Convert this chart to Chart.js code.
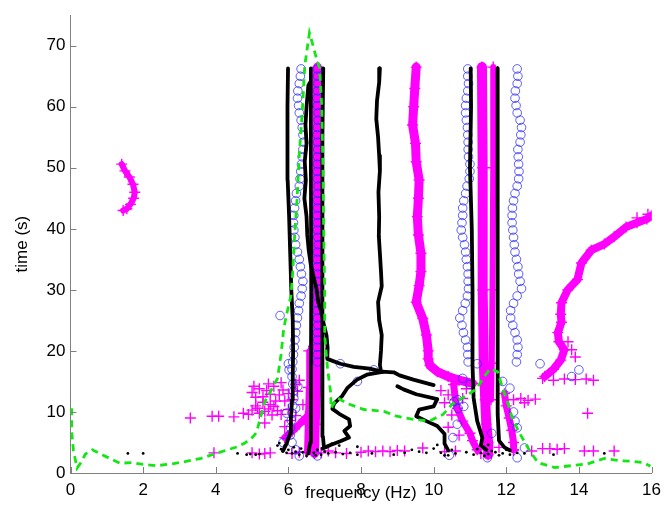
<!DOCTYPE html>
<html>
<head>
<meta charset="utf-8">
<script src="https://cdn.jsdelivr.net/npm/chart.js@4"></script>
<style>
  html, body { margin: 0; padding: 0; background: #fff; }
  #wrap { width: 668px; height: 507px; position: relative; }
</style>
</head>
<body>
<div id="wrap"><canvas id="grafico"></canvas></div>
<script>
// ticks
const xTicks = [0, 2, 4, 6, 8, 10, 12, 14, 16];
const yTicks = [0, 10, 20, 30, 40, 50, 60, 70];

// black tracks [frequency, time]
const blackA = [[5.85,3.6],[5.95,4.8],[6.05,6.5],[6.07,9],[6.1,12],[6.12,16],[6.13,20],[6.12,25],[6.08,30],[6.05,36],[6.02,42],[5.98,48],[5.97,55],[5.98,60],[5.99,66.3]];
const blackB = [[6.55,3.2],[6.6,5],[6.62,15],[6.63,30],[6.62,50],[6.62,66.3]];
const blackC = [[6.98,4.2],[6.95,6],[6.93,15],[6.93,35],[6.95,55],[6.96,66.3]];
const blackD = [[6.6,64],[6.55,63.5],[6.5,60],[6.47,57],[6.5,54],[6.45,51],[6.48,48],[6.44,45],[6.5,42],[6.52,39],[6.56,36.5],[6.62,34],[6.7,32],[6.78,30],[6.82,28],[6.9,26.5],[6.97,24.5],[7.05,22.5],[7.08,20.5],[7.07,18.7],[7.43,17.9],[7.8,17.4],[8.24,17.1],[8.57,16.6],[8.9,16.5],[9.06,16.0],[9.44,15.3],[10.0,14.4]];
const blackE = [[8.52,66.3],[8.5,64],[8.44,61],[8.42,58],[8.47,55],[8.5,52],[8.52,49.5],[8.48,46],[8.5,42],[8.49,38.8],[8.52,36],[8.55,33],[8.57,30.6],[8.47,28],[8.5,25],[8.57,22.6],[8.55,20],[8.52,17.7],[8.55,16.6]];
const blackF = [[8.63,16.6],[8.16,16.1],[7.89,15.3],[7.62,13.9],[7.48,12.6],[7.26,11.4],[7.21,10.5],[7.4,9.7],[7.67,8.8],[7.7,7.7],[7.54,6.9],[7.67,5.8],[7.43,5.2],[7.16,4.6],[6.94,4.0]];
const blackG = [[9.0,14.2],[9.17,13.7],[9.52,12.9],[10.1,12.1],[10.0,10.9],[9.6,10.4],[9.52,9.3],[9.8,8.5],[10.1,7.7],[10.3,6.4],[10.3,4.8],[10.4,3.7]];
const blackH = [[11.02,66.3],[11.03,60],[11.0,50],[11.05,40],[11.07,30],[11.07,20],[11.07,17.7],[11.1,12.3],[11.2,8.5],[11.34,5.8],[11.3,4.5],[11.45,3.8]];
const blackI = [[11.76,66.3],[11.77,50],[11.76,30],[11.76,9.6],[11.8,5.3],[11.95,4.2],[12.1,3.7]];
const blackDots = [[1.58,3.2],[2.0,3.2],[4.6,3.2],[4.85,3.0],[4.95,3.1],[5.1,3.0],[5.2,3.1],[5.7,4.5],[5.75,4.9],[5.8,3.9],[5.9,4.5],[5.95,3.3],[6.0,3.8],[6.1,3.2],[6.15,4.2],[6.2,3.5],[6.3,3.0],[6.35,4.0],[6.4,3.4],[6.5,2.8],[6.55,3.9],[6.7,3.3],[6.75,2.9],[6.8,3.8],[6.9,3.0],[7.0,3.5],[7.05,4.2],[7.1,3.2],[7.2,4.8],[7.3,3.4],[7.4,4.5],[7.5,3.1],[7.7,3.3],[7.9,3.0],[7.9,4.3],[8.3,3.2],[8.9,3.0],[9.2,3.3],[9.4,3.8],[9.6,3.5],[9.8,3.3],[10.0,4.0],[10.1,4.6],[10.2,3.3],[10.3,2.9],[10.4,2.9],[10.5,3.8],[10.6,3.2],[10.9,3.4],[11.1,3.0],[11.2,3.9],[11.3,3.3],[11.4,2.8],[11.5,3.1],[11.5,4.6],[11.6,3.6],[11.7,3.4],[11.8,2.9],[11.9,3.2],[12.0,3.8],[12.1,3.0],[12.3,3.3],[12.5,3.2],[13.3,3.0],[14.7,3.2]];

// magenta bands
const magArc = [[1.41,50.6],[1.5,49.5],[1.62,48.5],[1.72,47.3],[1.77,46],[1.74,45],[1.65,44],[1.55,43.3],[1.45,43.0]];
const mag68 = [[6.72,3.2],[6.74,8],[6.78,15],[6.8,30],[6.8,45],[6.8,60],[6.8,66.5]];
const mag65 = [[6.5,3.4],[6.52,8],[6.55,14],[6.56,20]];
const magDiag = [[5.9,5.8],[6.1,6.8],[6.3,8],[6.5,9.2],[6.6,10]];
const mag95 = [[9.52,66.5],[9.48,63],[9.45,60],[9.42,57],[9.5,54],[9.52,51],[9.6,48],[9.58,45],[9.55,42],[9.58,39],[9.65,36],[9.65,33],[9.6,30.7],[9.52,28],[9.7,25.3],[9.8,22.6],[9.85,20],[9.85,18.7],[9.9,17.6],[10.1,16.6],[10.4,15.8],[10.7,15.2],[11.07,14.7]];
const mag106 = [[10.55,14.5],[10.6,12],[10.65,10.6],[10.8,8.5],[11.0,6.5],[11.07,5.3],[11.2,3.8]];
const mag113 = [[11.33,66.5],[11.35,50],[11.35,30],[11.38,18],[11.42,12],[11.45,8],[11.5,5],[11.5,3]];
const mag116 = [[11.64,66.5],[11.64,50],[11.62,30],[11.6,18],[11.58,12]];
const mag121 = [[11.95,13],[12.0,11],[12.08,9],[12.15,7],[12.2,5],[12.2,3.8]];
const magRight = [[16.0,42.2],[15.87,41.6],[15.6,41],[15.3,40.3],[14.97,38.7],[14.7,37.5],[14.34,36.5],[14.07,34.4],[13.96,31.7],[13.69,30],[13.52,27.9],[13.5,26],[13.52,24.7],[13.42,23],[13.45,21.5],[13.6,20.2],[13.5,18.5],[13.3,17.0],[13.06,15.8]];
const magCrosses = [[5.0,13.2],[5.2,13.8],[5.4,13.5],[5.6,14.2],[5.8,14.8],[5.3,12.5],[5.5,11.2],[5.1,11],[5.0,10.3],[5.2,9.8],[5.45,10.5],[5.7,10.2],[5.9,11.8],[6.0,13],[6.2,14.5],[6.3,15.2],[5.75,12.8],[5.55,9.5],[4.9,9.6],[5.35,8.2],
  [5.1,12.4],[5.3,11.6],[5.5,12.9],[5.65,11.8],[5.85,13.6],[5.15,10.6],[5.35,10.1],[5.6,10.9],[5.8,9.6],[6.0,10.4],[6.1,12],[6.25,13.4],[6.05,8.6],[5.9,7.6],[6.2,9.4],[6.4,11.2],[5.05,14.2],[5.45,14.6],
  [3.3,9.0],[3.9,9.3],[4.08,9.3],[4.5,9.2],[4.76,9.8],[3.95,3.3],[5.0,3.3],[5.2,3.1],[5.35,3.2],[5.5,3.3],[6.1,3.2],[6.3,3.4],[6.6,3.8],[6.9,3.3],[7.1,3.6],[7.3,3.3],[7.6,3.2],[8.0,3.4],[8.2,3.6],[8.4,3.5],[8.6,3.6],[8.8,3.5],[9.0,3.7],[9.2,3.6],[9.7,4.1],[10.3,3.5],[10.6,3.6],[11.3,3.2],[11.8,4.2],[12.2,3.7],[12.7,3.6],[13.0,4.0],[13.2,4.0],[13.4,3.9],[13.6,4.0],[14.15,3.6],[14.4,3.6],[14.97,3.6],[14.24,9.8],
  [10.2,13.5],[10.4,12.8],[10.3,11.5],[10.8,12.2],[10.9,13.8],[10.5,9.5],[10.4,7.5],[10.7,6.2],[12.2,12.0],[12.4,12.2],[12.6,11.9],[12.8,12.1],[12.5,11.5],
  [13.0,15.5],[13.3,15.2],[13.6,15.4],[13.9,15.3],[14.2,15.4],[14.4,15.2],[13.8,20.2],[13.9,19],[13.7,21.5],[15.6,41.8],[15.9,42.4]];

// blue circles
const circT = [66.2,65.0,63.8,62.6,61.4,60.2,59.0,57.8,56.6,55.4,54.2,53.0,51.8,50.6,49.4,48.2,47.0,45.8,44.6,43.4,42.2,41.0,39.8,38.6,37.4,36.2,35.0,33.8,32.6,31.4,30.2,29.0,27.8,26.6,25.4,24.2,23.0,21.8,20.6,19.4,18.2];
const circLowT = [17.0,15.8,14.6,13.4,12.2,11.0,9.8,8.6,7.4,6.2,5.0,3.8,2.8];
const circ63 = [6.35,6.33,6.3,6.26,6.25,6.28,6.3,6.35,6.38,6.4,6.42,6.4,6.38,6.36,6.34,6.32,6.3,6.22,6.2,6.17,6.15,6.14,6.15,6.18,6.2,6.25,6.3,6.33,6.36,6.4,6.38,6.35,6.3,6.28,6.25,6.22,6.2,6.18,6.16,6.14,6.12];
const circ63Low = [6.1,6.1,6.12,6.14,6.15,6.12,6.1,6.08,6.06,6.05,6.1,6.2,6.3];
const circ68 = [6.8,6.8,6.81,6.8,6.79,6.8,6.82,6.82,6.8,6.79,6.8,6.81,6.8,6.8,6.79,6.8,6.82,6.81,6.8,6.8,6.79,6.8,6.8,6.81,6.82,6.8,6.79,6.8,6.8,6.81,6.8,6.8,6.79,6.8,6.8,6.81,6.8,6.8,6.79,6.8,6.8];
const circ109 = [10.94,10.94,10.96,10.94,10.9,10.88,10.88,10.9,10.93,10.94,10.95,10.95,10.96,11.0,11.0,10.98,10.92,10.88,10.83,10.8,10.8,10.78,10.76,10.8,10.85,10.88,10.9,10.93,10.95,10.95,10.96,10.93,10.87,10.8,10.72,10.78,10.82,10.88,10.93,10.94,10.95];
const circ123 = [12.3,12.32,12.3,12.25,12.24,12.27,12.3,12.38,12.42,12.4,12.38,12.32,12.33,12.34,12.35,12.34,12.3,12.24,12.2,12.17,12.16,12.16,12.18,12.2,12.22,12.24,12.28,12.32,12.34,12.38,12.42,12.3,12.2,12.12,12.12,12.18,12.24,12.3,12.32,12.3,12.28];
const circStray = [[5.77,25.8],[6.0,17.9],[6.02,16.9],[6.26,14.2],[6.2,10.6],[6.8,2.8],[7.43,17.9],[8.35,16.9],[7.9,15.0],[10.53,5.8],[10.43,2.9],[10.67,12],[10.67,10.6],[12.93,17.9],[13.8,15.8],[14.0,16.9],[11.2,17.9],[11.9,15.0],[12.1,13.9],[10.56,11.7],[10.83,10.9],[12.24,8.5],[12.3,7.4],[12.5,4.1],[11.48,2.5],[12.3,2.5],[5.85,5.0],[5.95,9.8],[10.65,8.0],[11.0,14.5],[10.8,15.5],[12.2,10],[11.6,6.5]];

// green dashed curve
const greenLine = [[0.03,10.6],[0.03,7],[0.08,3.7],[0.18,0.8],[0.3,1.8],[0.41,3.1],[0.6,3.8],[0.9,2.9],[1.15,2.2],[1.36,1.6],[1.7,1.7],[2.0,1.4],[2.37,1.2],[2.8,1.5],[3.18,1.9],[3.6,2.4],[3.9,3.0],[4.27,3.7],[4.6,4.3],[4.8,4.9],[5.0,5.8],[5.12,6.6],[5.25,9.5],[5.35,11.7],[5.55,13.8],[5.7,15.5],[5.8,19.5],[5.87,23.6],[5.95,26],[6.07,29],[6.12,33],[6.17,38.7],[6.24,45],[6.3,52.2],[6.38,59],[6.45,66.7],[6.58,72.1],[6.68,70],[6.75,68.4],[6.86,66.3],[6.92,60],[6.95,50],[6.97,40],[7.0,30],[7.0,22.5],[7.08,17],[7.17,12.9],[7.17,10.6],[7.35,12.3],[7.62,11.4],[8.08,10.4],[8.63,10.1],[8.98,9.3],[9.44,8.8],[9.88,8.5],[10.26,9.6],[10.53,11.4],[10.88,12.6],[11.16,13.7],[11.43,16.1],[11.56,17.1],[11.76,16.6],[11.9,13.9],[12.05,11.3],[12.16,9.1],[12.33,6.9],[12.6,4.1],[12.87,1.7],[13.33,0.9],[13.8,1.2],[14.24,1.5],[14.7,2.4],[15.15,2.0],[15.5,1.9],[15.78,1.7],[15.97,1.1]];

const pts = a => a.map(([x, y]) => ({ x, y }));
const cols = (xs, ts) => xs.map((x, i) => ({ x, y: ts[i] }));

const MAG = '#ff00ff';
const BLUE = 'rgba(40,40,255,0.75)';

function linea(data, color, width, order) {
    return { data: pts(data), showLine: true, borderColor: color, borderWidth: width,
        pointRadius: 0, borderCapStyle: 'round', borderJoinStyle: 'round', order };
}
function banda(data, width) {
    return { data: pts(data), showLine: true, borderColor: MAG, borderWidth: width,
        borderCapStyle: 'round', borderJoinStyle: 'round', pointStyle: 'cross',
        pointRadius: 5.5, pointBorderWidth: 1.4, pointBorderColor: MAG, order: 5 };
}
function circulos(data) {
    return { data, showLine: false, pointStyle: 'circle', pointRadius: 4.3,
        pointBorderColor: BLUE, pointBackgroundColor: 'rgba(0,0,0,0)', pointBorderWidth: 1, order: 4 };
}

const datasets = [
    banda(magArc, 6), banda(mag68, 9), banda(mag65, 5), banda(magDiag, 7),
    banda(mag95, 9), banda(mag106, 7), banda(mag113, 10), banda(mag116, 6),
    banda(mag121, 7), banda(magRight, 8),
    { data: pts(magCrosses), showLine: false, pointStyle: 'cross', pointRadius: 5.5,
      pointBorderWidth: 1.4, pointBorderColor: MAG, order: 5 },
    circulos(cols(circ63, circT)), circulos(cols(circ63Low, circLowT)),
    circulos(cols(circ68, circT)), circulos(cols(circ109, circT)),
    circulos(cols(circ123, circT)), circulos(pts(circStray)),
    linea(blackA, '#000', 3.8, 3), linea(blackB, '#000', 3.8, 3), linea(blackC, '#000', 3.8, 3),
    linea(blackD, '#000', 3.8, 3), linea(blackE, '#000', 3.8, 3), linea(blackF, '#000', 3.8, 3),
    linea(blackG, '#000', 3.8, 3), linea(blackH, '#000', 3.8, 3), linea(blackI, '#000', 3.8, 3),
    { data: pts(blackDots), showLine: false, pointStyle: 'circle', pointRadius: 1.4,
      pointBackgroundColor: '#000', pointBorderWidth: 0, order: 3 },
    { data: pts(greenLine), showLine: true, borderColor: '#14e614', borderWidth: 2.8,
      borderDash: [7, 5], pointRadius: 0, order: 1 }
];

// marcas de los ticks hacia dentro, estilo matlab
const ticksDentro = {
    id: 'ticksDentro',
    afterDatasetsDraw(chart) {
        const { ctx, chartArea, scales } = chart;
        ctx.save();
        ctx.strokeStyle = '#808080';
        ctx.lineWidth = 1;
        ctx.beginPath();
        xTicks.forEach(v => {
            const px = Math.round(scales.x.getPixelForValue(v)) + 0.5;
            ctx.moveTo(px, chartArea.bottom);
            ctx.lineTo(px, chartArea.bottom - 6);
        });
        yTicks.forEach(v => {
            const py = Math.round(scales.y.getPixelForValue(v)) + 0.5;
            ctx.moveTo(chartArea.left, py);
            ctx.lineTo(chartArea.left + 6, py);
        });
        ctx.stroke();
        ctx.restore();
    }
};

const fuente = { family: 'Liberation Sans, Arial, sans-serif', size: 17 };

new Chart(document.getElementById('grafico'), {
    type: 'scatter',
    data: { datasets },
    options: {
        responsive: true,
        maintainAspectRatio: false,
        animation: false,
        layout: { padding: { top: 10.7, right: 9.7, left: 0, bottom: 0 } },
        plugins: { legend: { display: false }, tooltip: { enabled: false } },
        scales: {
            x: {
                type: 'linear', min: 0, max: 16,
                afterBuildTicks: s => { s.ticks = xTicks.map(v => ({ value: v })); },
                afterFit: s => { s.height = 34; },
                grid: { display: false, drawTicks: false },
                border: { display: true, color: '#808080', width: 1 },
                ticks: { color: '#000', font: fuente, padding: 7, maxRotation: 0, autoSkip: false },
                title: { display: true, text: 'frequency (Hz)', color: '#000', font: fuente,
                         padding: { top: 0, bottom: 3 } }
            },
            y: {
                type: 'linear', min: 0, max: 75,
                afterBuildTicks: s => { s.ticks = yTicks.map(v => ({ value: v })); },
                afterFit: s => { s.width = 70.5; },
                grid: { display: false, drawTicks: false },
                border: { display: true, color: '#808080', width: 1 },
                ticks: { color: '#000', font: fuente, padding: 5, autoSkip: false },
                title: { display: true, text: 'time (s)', color: '#000', font: fuente,
                         padding: { top: 12, bottom: 0 } }
            }
        }
    },
    plugins: [ticksDentro]
});
</script>
</body>
</html>
